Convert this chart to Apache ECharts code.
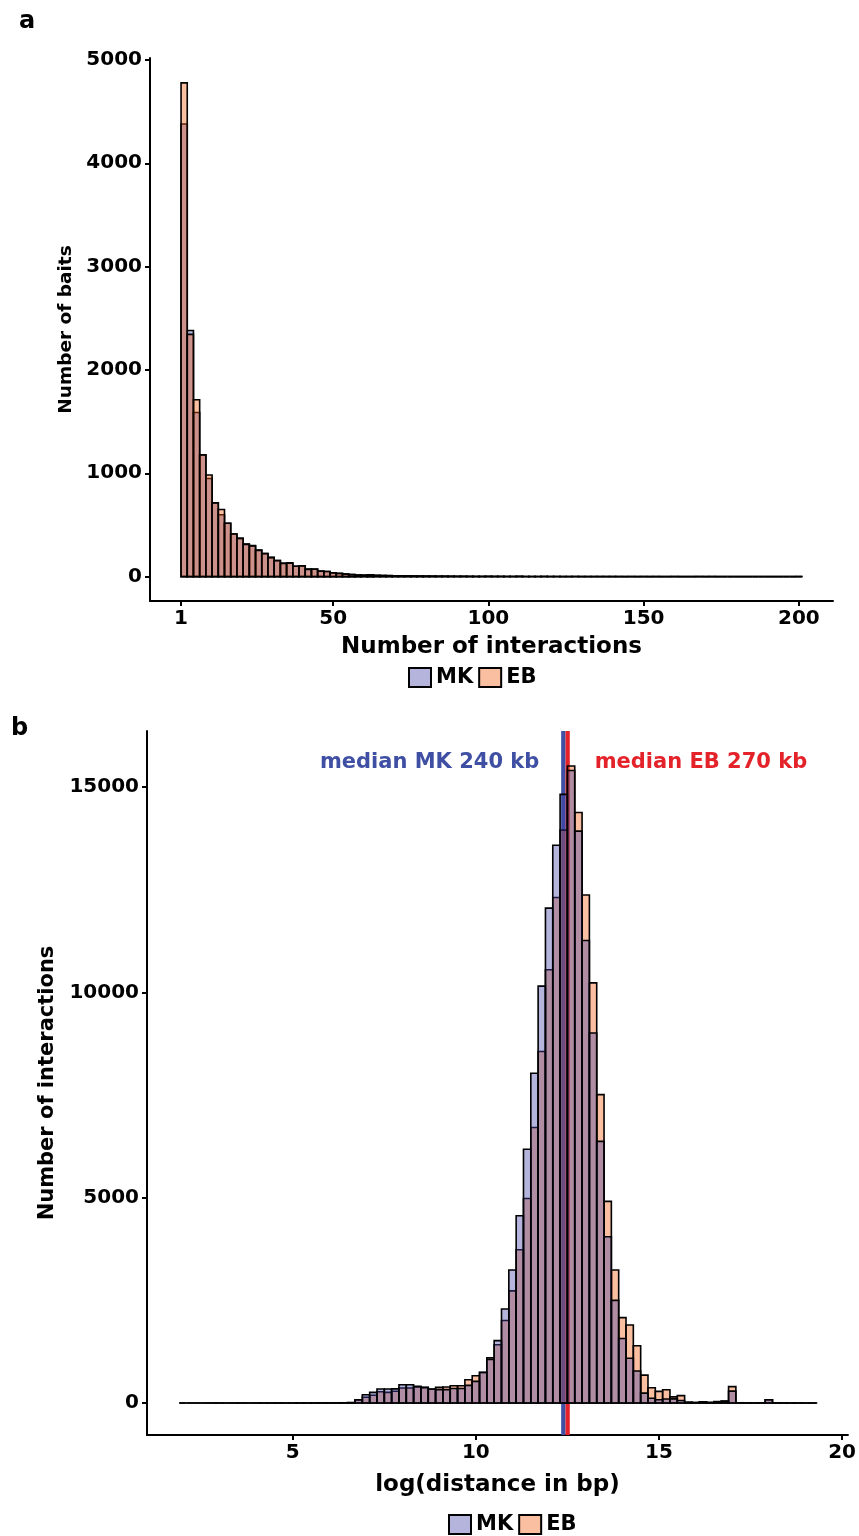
<!DOCTYPE html>
<html><head><meta charset="utf-8">
<script src="https://cdn.jsdelivr.net/npm/echarts@6/dist/echarts.min.js"></script>
<style>html,body{margin:0;padding:0;background:#fff}#c{width:859px;height:1536px}</style>
</head><body><div id="c"></div>
<script>
// ---------- Panel a: number of interactions per bait (bin width 2) ----------
const binStartA = [
  1,3,5,7,9,11,13,15,17,19,
  21,23,25,27,29,31,33,35,37,39,
  41,43,45,47,49,51,53,55,57,59,
  61,63,65,67,69,71,73,75,77,79,
  81,83,85,87,89,91,93,95,97,99,
  101,103,105,107,109,111,113,115,117,119,
  121,123,125,127,129,131,133,135,137,139,
  141,143,145,147,149,151,153,155,157,159,
  161,163,165,167,169,171,173,175,177,179,
  181,183,185,187,189,191,193,195,197,199];
const binWidthA = 2;
const mkA = [
  4380,2382,1588,1178,950,714,599,517,412,370,
  315,300,257,224,186,156,130,133,101,105,
  72,72,53,50,37,31,25,20,16,14,
  17,12,11,10,8,8,7,6,6,5,
  5,4,4,4,3,3,3,2,2,3,
  2,2,2,1,3,1,1,1,2,1,
  1,1,0,1,1,0,1,0,1,1,
  0,0,1,0,0,0,1,0,0,0,
  0,0,0,1,0,0,0,0,0,0,
  0,0,0,0,0,0,0,0,0,1];
const ebA = [
  4778,2344,1712,1178,983,714,649,517,412,370,
  312,296,254,222,184,155,128,131,100,103,
  70,71,52,49,36,30,24,19,15,14,
  16,12,10,9,8,7,7,6,5,5,
  4,4,4,3,3,3,2,2,2,2,
  2,2,1,2,2,1,1,1,1,1,
  1,0,1,1,0,1,0,1,0,0,
  1,0,0,0,1,0,0,0,0,1,
  0,0,0,0,0,1,0,0,0,0,
  0,0,0,0,0,0,0,0,0,0];
const xTicksA = [1,50,100,150,200];
const yTicksA = [0,1000,2000,3000,4000,5000];

// ---------- Panel b: log(distance in bp) (bin width 0.2) ----------
const binStartB = [
  1.9,2.1,2.3,2.5,2.7,2.9,3.1,3.3,3.5,3.7,
  3.9,4.1,4.3,4.5,4.7,4.9,5.1,5.3,5.5,5.7,
  5.9,6.1,6.3,6.5,6.7,6.9,7.1,7.3,7.5,7.7,
  7.9,8.1,8.3,8.5,8.7,8.9,9.1,9.3,9.5,9.7,
  9.9,10.1,10.3,10.5,10.7,10.9,11.1,11.3,11.5,11.7,
  11.9,12.1,12.3,12.5,12.7,12.9,13.1,13.3,13.5,13.7,
  13.9,14.1,14.3,14.5,14.7,14.9,15.1,15.3,15.5,15.7,
  15.9,16.1,16.3,16.5,16.7,16.9,17.1,17.3,17.5,17.7,
  17.9,18.1,18.3,18.5,18.7,18.9,19.1];
const binWidthB = 0.2;
const mkB = [
  0,0,0,0,0,1,0,0,1,0,
  1,0,1,1,0,1,2,1,2,3,
  3,5,6,10,
  80,200,260,340,340,345,446,446,405,380,
  340,325,325,355,355,430,527,750,1060,1520,
  2290,3240,4560,6180,8030,10150,12050,13580,14820,15400,
  13925,11260,9010,6370,4050,2500,1570,1090,780,240,
  115,80,97,100,60,15,10,25,10,30,
  40,290,5,3,2,4,80,3,2,1,
  1,0,1];
const ebB = [
  0,0,0,0,1,0,0,1,0,0,
  0,1,0,1,1,0,1,2,1,2,
  3,4,5,8,
  75,140,190,275,260,285,365,365,390,375,
  335,380,390,420,420,567,665,740,1100,1420,
  2010,2730,3730,4980,6710,8560,10550,12310,13950,15510,
  14380,12370,10230,7510,4910,3240,2080,1900,1395,680,
  370,283,324,150,180,20,12,30,15,35,
  45,400,6,3,2,5,80,3,2,1,
  1,1,0];
const xTicksB = [5,10,15,20];
const yTicksB = [0,5000,10000,15000];
const medianKb = [240, 270];
const medianNames = ['median MK 240 kb', 'median EB 270 kb'];

// ---------- styling ----------
const MK_FILL = 'rgba(68,68,168,0.4)';
const EB_FILL = 'rgba(243,93,18,0.4)';
const MED_COLORS = ['#3f4fa3', '#e3222a'];
const FONT_W = 'DejaVu Sans';

function histData(starts, width, vals){
  return starts.map((s,i)=>[s, +(s+width).toFixed(3), vals[i]]);
}
function renderBin(fill){
  return function(params, api){
    const a = api.coord([api.value(0), api.value(2)]);
    const b = api.coord([api.value(1), 0]);
    return {type:'rect', shape:{x:a[0], y:a[1], width:b[0]-a[0], height:b[1]-a[1]},
      style:{fill:fill, stroke:'#000', lineWidth:1.6}};
  };
}
function renderMedianLine(params, api){
  const p = api.coord([api.value(0), 0]);
  const cs = params.coordSys;
  return {type:'line', shape:{x1:p[0], y1:cs.y, x2:p[0], y2:cs.y+cs.height},
    style:{stroke:MED_COLORS[params.dataIndex], lineWidth:4.3}};
}
function renderMedianText(params, api){
  const p = api.coord([api.value(0), 0]);
  const cs = params.coordSys;
  const left = params.dataIndex === 0;
  return {type:'text', x: left ? p[0]-24 : p[0]+27, y: cs.y+32,
    style:{text: medianNames[params.dataIndex], fill: MED_COLORS[params.dataIndex],
      font:'bold 21px "DejaVu Sans"', align: left ? 'right' : 'left', verticalAlign:'middle'}};
}

const tickLabel = {fontFamily:FONT_W, fontWeight:'bold', fontSize:20, color:'#000',
  formatter: v => String(v)};
const axisLineStyle = {color:'#000', width:2};

function xAxis(gi, min, max, ticks, name, gap){
  return {type:'value', gridIndex:gi, min:min, max:max,
    axisLine:{show:true, onZero:false, lineStyle:axisLineStyle},
    axisTick:{show:true, length:5, lineStyle:axisLineStyle, customValues:ticks},
    axisLabel:{...tickLabel, margin:8, customValues:ticks},
    splitLine:{show:false},
    name:name, nameLocation:'middle', nameGap:gap,
    nameTextStyle:{fontFamily:FONT_W, fontWeight:'bold', fontSize:23, color:'#000'}};
}
function yAxis(gi, min, max, ticks, name, gap, fs){
  return {type:'value', gridIndex:gi, min:min, max:max,
    axisLine:{show:true, onZero:false, lineStyle:axisLineStyle},
    axisTick:{show:true, length:5, lineStyle:axisLineStyle, customValues:ticks},
    axisLabel:{...tickLabel, margin:8, customValues:ticks},
    splitLine:{show:false},
    name:name, nameLocation:'middle', nameGap:gap,
    nameTextStyle:{fontFamily:FONT_W, fontWeight:'bold', fontSize:fs, color:'#000'}};
}
const legendBase = {data:['MK','EB'], orient:'horizontal', itemWidth:22, itemHeight:19, itemGap:5,
  icon:'rect', selectedMode:false,
  textStyle:{fontFamily:FONT_W, fontWeight:'bold', fontSize:21, color:'#000'}};

const chart = echarts.init(document.getElementById('c'), null, {renderer:'canvas'});
chart.setOption({
  animation:false,
  backgroundColor:'#fff',
  grid:[
    {left:150, right:26, top:58, height:543},
    {left:147, right:10, top:731, height:704}
  ],
  xAxis:[
    xAxis(0, -9, 211, xTicksA, 'Number of interactions', 35),
    xAxis(1, 1.02, 20.16, xTicksB, 'log(distance in bp)', 39)
  ],
  yAxis:[
    yAxis(0, -236, 5019, yTicksA, 'Number of baits', 62, 18.5),
    yAxis(1, -779, 16363, yTicksB, 'Number of interactions', 77, 21)
  ],
  legend:[
    {...legendBase, left:403, top:662},
    {...legendBase, left:443, top:1509}
  ],
  graphic:[
    {type:'text', left:19, top:10, style:{text:'a', font:'bold 24px "DejaVu Sans"', fill:'#000'}},
    {type:'text', left:11, top:717, style:{text:'b', font:'bold 24px "DejaVu Sans"', fill:'#000'}}
  ],
  series:[
    {type:'custom', name:'MK', xAxisIndex:0, yAxisIndex:0, z:2,
      renderItem:renderBin(MK_FILL), encode:{x:[0,1], y:2},
      itemStyle:{color:MK_FILL, borderColor:'#000', borderWidth:1.5},
      data:histData(binStartA, binWidthA, mkA)},
    {type:'custom', name:'EB', xAxisIndex:0, yAxisIndex:0, z:3,
      renderItem:renderBin(EB_FILL), encode:{x:[0,1], y:2},
      itemStyle:{color:EB_FILL, borderColor:'#000', borderWidth:1.5},
      data:histData(binStartA, binWidthA, ebA)},
    {type:'custom', name:'median', xAxisIndex:1, yAxisIndex:1, z:1, silent:true,
      renderItem:renderMedianLine, encode:{x:0, y:1},
      data:medianKb.map(k=>[Math.log(k*1000), 0])},
    {type:'custom', name:'EB', xAxisIndex:1, yAxisIndex:1, z:2,
      renderItem:renderBin(EB_FILL), encode:{x:[0,1], y:2},
      itemStyle:{color:EB_FILL, borderColor:'#000', borderWidth:1.5},
      data:histData(binStartB, binWidthB, ebB)},
    {type:'custom', name:'MK', xAxisIndex:1, yAxisIndex:1, z:3,
      renderItem:renderBin(MK_FILL), encode:{x:[0,1], y:2},
      itemStyle:{color:MK_FILL, borderColor:'#000', borderWidth:1.5},
      data:histData(binStartB, binWidthB, mkB)},
    {type:'custom', name:'medianText', xAxisIndex:1, yAxisIndex:1, z:4, silent:true,
      renderItem:renderMedianText, encode:{x:0, y:1},
      data:medianKb.map(k=>[Math.log(k*1000), 0])}
  ]
});
</script></body></html>
